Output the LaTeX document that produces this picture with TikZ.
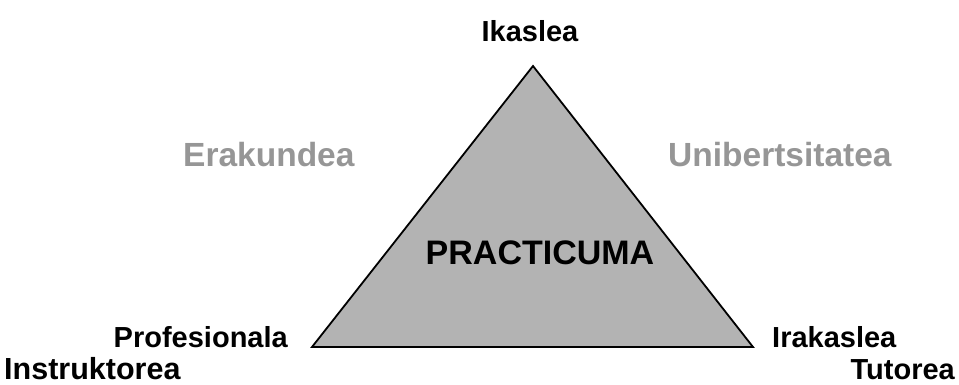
\documentclass[tikz,border=0pt]{standalone}
\usepackage{fontspec}
\setmainfont{Liberation Sans}
\definecolor{trifill}{RGB}{179,179,179}
\definecolor{softgray}{RGB}{150,150,150}
\begin{document}
\begin{tikzpicture}[x=1pt,y=-1pt,
  blacklbl/.style={inner sep=0pt,font=\fontsize{29}{29}\selectfont\bfseries,text=black},
  graylbl/.style={inner sep=0pt,font=\fontsize{33.5}{33.5}\selectfont\bfseries,text=softgray},
  centerlbl/.style={inner sep=0pt,font=\fontsize{34}{34}\selectfont\bfseries,text=black},
  tri/.style={draw=black,line width=1.8pt,fill=trifill,line join=miter}]
\useasboundingbox (0,0) rectangle (959,385);
\coordinate (top) at (533,66);
\coordinate (bl) at (312,347);
\coordinate (br) at (753,347);
\draw[tri] (top) -- (br) -- (bl) -- cycle;
\node[blacklbl,anchor=base] (ikaslea) at (530,42) {Ikaslea};
\node[graylbl,anchor=base west] (erakundea) at (183,167) {Erakundea};
\node[graylbl,anchor=base west] (uni) at (668,167) {Unibertsitatea};
\node[centerlbl,anchor=base] (pract) at (540,264) {PRACTICUMA};
\node[blacklbl,anchor=base east] (prof) at (288,347) {Profesionala};
\node[blacklbl,anchor=base west,text depth=0pt,font=\fontsize{30.5}{30.5}\selectfont\bfseries] (instr) at (4,379) {Instruktorea};
\node[blacklbl,anchor=base west] (irak) at (772,347) {Irakaslea};
\node[blacklbl,anchor=base east,text depth=0pt] (tut) at (955,379) {Tutorea};
\end{tikzpicture}
\end{document}
